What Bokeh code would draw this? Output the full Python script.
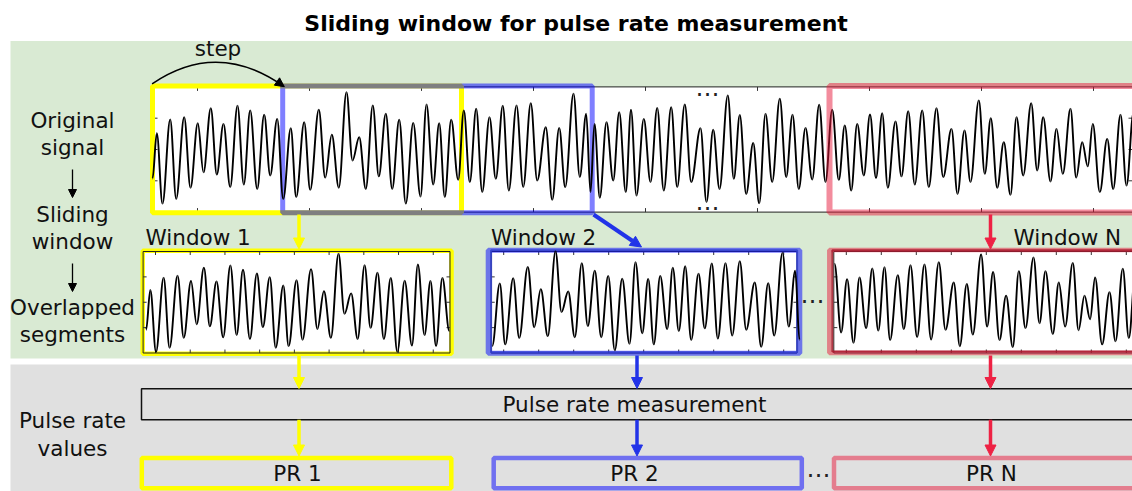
from bokeh.plotting import figure
from bokeh.models import Range1d, Arrow, NormalHead
from bokeh.core.properties import value
from bokeh.embed import file_html
from bokeh.resources import INLINE

# ---------------- data ----------------
# extrema of the pulse signal: time [s] and amplitude [a.u.]
T = [0.00, 0.43, 1.00, 1.77, 2.37, 3.17, 3.80, 4.53, 5.10, 5.83,
     6.43, 7.10, 7.77, 8.50, 9.13, 9.77, 10.47, 11.17, 11.77, 12.47,
     13.07, 13.83, 14.37, 15.17, 15.77, 16.63, 17.27, 17.93, 18.63, 19.40,
     20.00, 20.67, 21.33, 22.03, 22.63, 23.33, 23.97, 24.67, 25.33, 26.07,
     26.80, 27.40, 28.07, 28.67, 29.23, 29.87, 30.57, 31.13, 31.73, 32.37,
     32.97, 33.70, 34.33, 35.03, 35.63, 36.40, 37.07, 37.83, 38.47, 39.33,
     39.97, 40.67, 41.27, 42.10, 42.73, 43.37, 43.80, 44.20, 44.73, 45.40,
     46.07, 46.67, 47.33, 47.85, 48.40, 49.13, 49.80, 50.47, 51.13, 51.87,
     52.47, 53.23, 53.87, 54.80, 55.40, 56.07, 56.70, 57.53, 58.13, 58.73,
     59.37, 60.07, 60.67, 61.30, 61.97, 62.73, 63.37, 64.00, 64.63, 65.30,
     65.97, 66.67, 67.30, 67.97, 68.63, 69.23, 69.87, 70.47, 71.13, 71.75,
     72.35, 72.97, 73.53, 74.30, 74.90, 75.57, 76.23, 76.97, 77.63, 78.40,
     79.07, 79.90, 80.50, 81.20, 81.80, 82.63, 83.23, 83.83, 84.47, 85.13,
     85.80, 86.40, 87.07, 87.87, 88.47, 89.07, 89.80, 90.40, 91.03, 91.80,
     92.37, 92.97, 93.53, 94.03, 94.73, 95.47, 96.07, 96.80, 97.40, 98.10,
     98.70]
V = [-0.93, 0.52, -1.73, 0.96, -1.58, 1.03, -1.22, 0.84, -0.73, 1.32,
     -0.80, 0.82, -1.20, 1.40, -1.12, 1.25, -1.26, 1.11, -0.83, 0.98,
     -1.58, 0.68, -1.52, 0.87, -1.29, 1.27, -0.90, 0.47, -1.22, 1.83,
     -0.35, 0.39, -1.26, 1.41, -0.86, 1.14, -1.26, 0.95, -1.73, 0.85,
     -1.50, 1.44, -1.12, 0.84, -1.52, 0.95, -0.97, 1.25, -1.04, 1.30,
     -1.36, 1.03, -0.94, 1.40, -1.31, 1.41, -1.20, 1.48, -0.99, 0.71,
     -1.61, 0.69, -1.20, 1.78, -0.88, 1.14, -1.36, 0.82, -1.54, 0.87,
     -0.99, 1.19, -1.36, 1.27, -1.47, 0.98, -1.04, 1.33, -1.31, 1.35,
     -1.20, 1.44, -1.04, 0.68, -1.68, 0.63, -1.26, 1.73, -0.94, 1.10,
     -1.42, 0.21, -1.72, 1.14, -1.04, 1.62, -0.88, 1.11, -1.26, 0.69,
     -0.96, 1.43, -1.04, 1.27, -0.97, 0.77, -1.31, 0.82, -0.83, 1.12,
     -0.91, 1.16, -1.22, 0.90, -0.86, 1.22, -1.12, 1.25, -1.20, 1.32,
     -0.88, 0.66, -1.42, 0.61, -1.04, 1.57, -0.78, 1.00, -1.22, 0.23,
     -1.45, 1.03, -0.83, 1.48, -0.67, 1.03, -1.02, 0.66, -0.78, 1.30,
     -0.90, 0.23, -0.54, 0.82, -1.36, 0.34, -1.26, 1.11, -1.15, 1.18,
     -1.09]

ORIG_XTICKS = [4.5, 15.7, 26.9, 38.1, 49.3, 60.5, 71.7, 82.9, 94.1]
ORIG_YTICKS = [-1.0, 0.0, 1.0]
SEG_XTICKS = [1.25, 4.75, 8.25, 11.75, 15.25, 18.75, 22.25, 25.75, 29.25]  # s from window start
SEG_QTICKS = [0.25, 0.5, 0.75]
SEG_TLIM = [(0.0, 30.6), (13.0, 43.85), (67.9, 99.0)]      # samples shown in each window
SEG_T0 = [-0.3, 12.97, 67.9]                               # time at left of each window axis
SEG_YLIM = [(-1.77, 1.91), (-1.83, 1.83), (-1.64, 1.67)]
WINDOW_LABELS = ["Window 1", "Window 2", "Window N"]
PR_LABELS = ["PR 1", "PR 2", "PR N"]
TITLE = "Sliding window for pulse rate measurement"
ROW_LABELS = ["Original", "signal", "Sliding", "window", "Overlapped", "segments", "Pulse rate", "values"]

# ---------------- styles / layout ----------------
FONT = value("DejaVu Sans")
FS = "21.5px"
GREEN, GRAY = "#d9ead3", "#e0e0e0"
YEL, BLUE, RED = "#ffff00", "#0000ff", "#e8193c"
BLUE_ARR, RED_ARR = "#2233e8", "#ee2244"
DBLUE, DRED = "#3040cc", "#a8182c"
TXT = "#111111"

W, H = 1132, 491
PX0, PX1, PY0, PY1 = 0, W, 0, H

p = figure(width=W, height=H, x_range=Range1d(PX0, PX1), y_range=Range1d(PY1, PY0),
           x_axis_type=None, y_axis_type=None, output_backend="svg",
           toolbar_location=None, min_border=0, outline_line_color=None,
           background_fill_color="white", border_fill_color="white")
p.grid.visible = False


def ranges(left, top, bottom, t0, kx, vlo, vhi):
    ky = (bottom - top) / (vhi - vlo)
    xr = Range1d(t0 + (PX0 - left) / kx, t0 + (PX1 - left) / kx)
    yr = Range1d(vhi - (PY1 - top) / ky, vhi + (top - PY0) / ky)
    return xr, yr, ky


# panel geometry (pixels)
ORIG_BOX = dict(left=152, right=1133, top=86.4, bottom=211.6)
SEG_BOX = [dict(left=142.6, right=449.5), dict(left=490.7, right=796.5), dict(left=833.3, right=1160)]
SEG_TOP, SEG_BOT = 251, 352.5
SEG_KX = [9.92, 10.0, 10.0]

xr, yr, ky_o = ranges(ORIG_BOX["left"], ORIG_BOX["top"], ORIG_BOX["bottom"], 0.0, 10.0, -2.0, 2.0)
ex_x, ex_y = {"orig": xr}, {"orig": yr}
ky_s = []
for i in range(3):
    xr, yr, ky = ranges(SEG_BOX[i]["left"], SEG_TOP, SEG_BOT, SEG_T0[i], SEG_KX[i], *SEG_YLIM[i])
    ex_x[f"s{i}"] = xr
    ex_y[f"s{i}"] = yr
    ky_s.append(ky)
p.extra_x_ranges = ex_x
p.extra_y_ranges = ex_y


def signal(name, lo, hi, lw=1.9):
    idx = [i for i, t in enumerate(T) if lo <= t <= hi]
    ts = [T[i] for i in idx]
    vs = [V[i] for i in idx]
    x0, x1, y0, y1 = ts[:-1], ts[1:], vs[:-1], vs[1:]
    d = [b - a for a, b in zip(x0, x1)]
    cx0 = [a + 0.3634 * dd for a, dd in zip(x0, d)]
    cx1 = [b - 0.3634 * dd for b, dd in zip(x1, d)]
    p.bezier(x0=x0, y0=y0, x1=x1, y1=y1, cx0=cx0, cy0=y0, cx1=cx1, cy1=y1,
             line_color="black", line_width=lw, x_range_name=name, y_range_name=name)


def box(left, right, top, bottom, color, width, alpha=1.0, fill=None):
    p.quad(left=[left], right=[right], top=[top], bottom=[bottom],
           fill_color=fill, fill_alpha=1.0 if fill else 0.0,
           line_color=color, line_alpha=alpha, line_width=width)


def arrow(x0, y0, x1, y1, color, lw=3.5, size=11):
    p.add_layout(Arrow(end=NormalHead(size=size, fill_color=color, line_color=color, line_width=1),
                       x_start=x0, y_start=y0, x_end=x1, y_end=y1,
                       line_color=color, line_width=lw))


def label(xs, ys, texts, size=FS, align="center", bold=False, color=TXT):
    p.text(x=xs, y=ys, text=texts, text_font=FONT, text_font_size=size,
           text_font_style="bold" if bold else "normal", text_align=align,
           text_baseline="middle", text_color=color)


# backgrounds
p.quad(left=[10], right=[1160], top=[40.5], bottom=[358], fill_color=GREEN, line_color=None)
p.quad(left=[10], right=[1160], top=[364], bottom=[495], fill_color=GRAY, line_color=None)

# ---------------- original signal ----------------
ob = ORIG_BOX
box(ob["left"], ob["right"], ob["top"], ob["bottom"], "#222222", 1, fill="white")
tr_o = (ob["right"] - ob["left"]) / 10.0
p.segment(x0=ORIG_XTICKS, y0=[-2.0] * 9, x1=ORIG_XTICKS, y1=[-2.0 + 4 / ky_o] * 9,
          line_color="#333333", line_width=1, x_range_name="orig", y_range_name="orig")
p.segment(x0=ORIG_XTICKS, y0=[2.0] * 9, x1=ORIG_XTICKS, y1=[2.0 - 4 / ky_o] * 9,
          line_color="#333333", line_width=1, x_range_name="orig", y_range_name="orig")
p.segment(x0=[0.0] * 3, y0=ORIG_YTICKS, x1=[0.5] * 3, y1=ORIG_YTICKS,
          line_color="#333333", line_width=1, x_range_name="orig", y_range_name="orig")
p.segment(x0=[tr_o] * 3, y0=ORIG_YTICKS, x1=[tr_o - 0.5] * 3, y1=ORIG_YTICKS,
          line_color="#333333", line_width=1, x_range_name="orig", y_range_name="orig")
box(152, 461, 85.5, 212.3, YEL, 5)
box(282.2, 591.7, 85.5, 212.3, BLUE, 5, alpha=0.5)
signal("orig", 0.0, 99.0)
box(829, 1160, 85.5, 212.0, RED, 6, alpha=0.5)
label([707, 707], [87, 201], ["…", "…"], size="24px", color="#222222")

# ---------------- overlapped segments ----------------
for i in range(3):
    sb = SEG_BOX[i]
    name = f"s{i}"
    vlo, vhi = SEG_YLIM[i]
    ky = ky_s[i]
    p.quad(left=[sb["left"]], right=[sb["right"]], top=[SEG_TOP], bottom=[SEG_BOT],
           fill_color="white", line_color=None)
    if i == 0:
        box(142.2, 451.0, 250.2, 353.3, YEL, 4.5)
    box(sb["left"], sb["right"], SEG_TOP, SEG_BOT, "#222222", 1)
    xt = [SEG_T0[i] + t for t in SEG_XTICKS]
    n = len(xt)
    yt = [vhi - q * (vhi - vlo) for q in SEG_QTICKS]
    tx = 3.5 / SEG_KX[i]
    p.segment(x0=xt, y0=[vlo] * n, x1=xt, y1=[vlo + 3.5 / ky] * n,
              line_color="#333333", line_width=1, x_range_name=name, y_range_name=name)
    p.segment(x0=xt, y0=[vhi] * n, x1=xt, y1=[vhi - 3.5 / ky] * n,
              line_color="#333333", line_width=1, x_range_name=name, y_range_name=name)
    p.segment(x0=[SEG_T0[i]] * 3, y0=yt, x1=[SEG_T0[i] + tx] * 3, y1=yt,
              line_color="#333333", line_width=1, x_range_name=name, y_range_name=name)
    tr = SEG_T0[i] + (sb["right"] - sb["left"]) / SEG_KX[i]
    p.segment(x0=[tr] * 3, y0=yt, x1=[tr - tx] * 3, y1=yt,
              line_color="#333333", line_width=1, x_range_name=name, y_range_name=name)
    if i == 1:
        box(487.7, 799.3, 249.8, 352.8, BLUE, 5, alpha=0.5)
        box(490.6, 796.6, 249.8, 351.8, DBLUE, 2.0, alpha=0.85)
    if i == 2:
        box(828.8, 1160, 249.6, 352.6, RED, 4.5, alpha=0.5)
        box(831.8, 1160, 249.8, 351.0, DRED, 2.0, alpha=0.85)
    signal(name, *SEG_TLIM[i])

label([812], [294], ["…"], size="24px", color="#222222")

# ---------------- pulse rate section ----------------
box(141, 1160, 388.3, 419.3, TXT, 1.5)
label([634], [404], ["Pulse rate measurement"])
box(141.3, 450.8, 457.5, 487.8, YEL, 4.5)
box(493.2, 801.3, 457.5, 487.8, BLUE, 4.5, alpha=0.5)
box(833.5, 1160, 457.5, 487.8, RED, 4.5, alpha=0.5)
label([297, 634, 991], [473, 473, 473], PR_LABELS)
label([818], [468], ["…"], size="24px", color="#222222")

# ---------------- arrows ----------------
arrow(298.5, 214, 298.5, 248.5, YEL)
arrow(593, 214, 641, 246.5, BLUE_ARR, lw=4)
arrow(990, 214, 990, 248.5, RED_ARR)
arrow(298.5, 355, 298.5, 388, YEL)
arrow(636.5, 355, 636.5, 388, BLUE_ARR)
arrow(990, 355, 990, 388, RED_ARR)
arrow(298.5, 419.3, 298.5, 455.5, YEL)
arrow(636.5, 419.3, 636.5, 455.5, BLUE_ARR)
arrow(990, 419.3, 990, 455.5, RED_ARR)
arrow(72, 169, 72, 197, "black", lw=1.3, size=8)
arrow(72, 263, 72, 291, "black", lw=1.3, size=8)

# step arc
p.quadratic(x0=[151.6], y0=[83.3], x1=[283.5], y1=[86.0], cx=[217.0], cy=[38.8],
            line_color="black", line_width=1.5)
arrow(276.9, 81.3, 283.8, 86.2, "black", lw=0.5, size=9)

# ---------------- texts ----------------
label([575.6], [23], [TITLE], size="22px", bold=True, color="black")
label([217.5], [48], ["step"])
label([72] * 8, [120, 147, 214, 241, 307, 334, 420, 448], ROW_LABELS)
label([145, 490.5, 1013], [237, 237, 237], WINDOW_LABELS, align="left")

open("out.html", "w").write(file_html(p, INLINE, "Sliding window"))
